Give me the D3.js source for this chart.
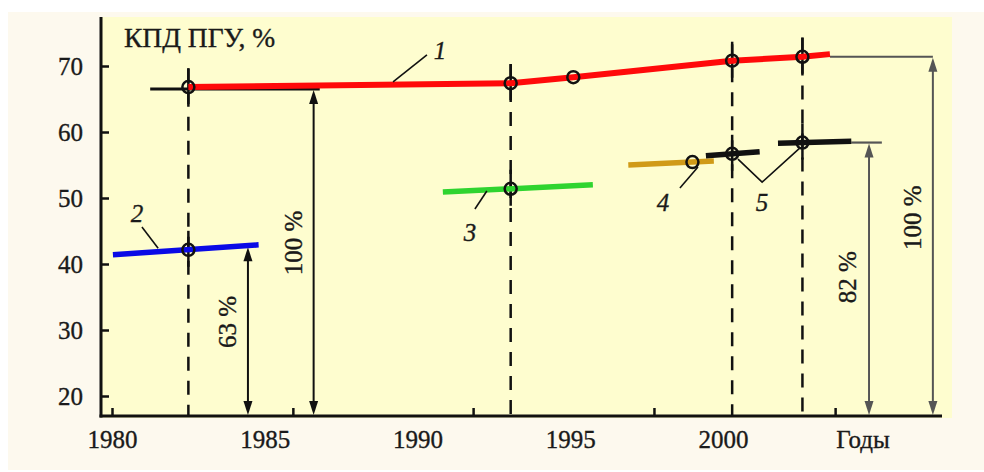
<!DOCTYPE html>
<html><head><meta charset="utf-8">
<script src="https://cdn.jsdelivr.net/npm/d3@7"></script>
<style>
html,body{margin:0;padding:0;background:#fff;}
text{font-family:"Liberation Serif","Times New Roman",serif;fill:#1a1a1a;stroke:#1a1a1a;stroke-width:0.35px;}
</style></head>
<body><svg id="chart" width="984" height="472"></svg>
<script>
// ---------- data ----------
const xLabelYears = [1980, 1985, 1990, 1995, 2000];
const xTickMarks = [1980, 1985.92, 1991.82, 1997.74, 2003.67];
const yTicks = [20, 30, 40, 50, 60, 70];
const titleText = "КПД ПГУ, %";
const xAxisTitle = "Годы";
const xAxisTitleYear = 2004.58;

// series 1 (red)
const line1 = [[1982.5, 66.8], [1993.05, 67.4], [1995.1, 68.3], [2000.3, 70.8], [2002.6, 71.4], [2003.5, 71.8]];
const marks1 = [[1982.5, 66.8], [1993.05, 67.4], [1995.1, 68.3], [2000.3, 70.8], [2002.6, 71.4]];
// series 2 (blue)
const line2 = [[1980.03, 41.4], [1984.8, 42.9]];
const marks2 = [[1982.5, 42.15]];
// series 3 (green)
const line3 = [[1990.83, 50.9], [1995.74, 52.0]];
const marks3 = [[1993.05, 51.4]];
// series 4 (gold)
const line4 = [[1996.9, 55.0], [1999.7, 55.6]];
const marks4 = [[1999.0, 55.45]];
// series 5 (black, two segments)
const line5a = [[1999.44, 56.4], [2001.2, 57.0]];
const line5b = [[2001.8, 58.3], [2004.2, 58.6]];
const marks5 = [[2000.3, 56.7], [2002.6, 58.4]];

// reference level 66.5 (black) at left
const refBlack = [[1981.25, 66.5], [1986.8, 66.5]];
// grey reference levels at right
const refGrey1 = [[2003.5, 71.4], [2006.87, 71.4]];
const refGrey2 = [[2004.2, 58.4], [2005.2, 58.4]];

// drop lines (year, top value)
const dropYears = [1982.5, 1993.05, 2000.3, 2002.6];
const dropTops = [69.6, 70.3, 73.3, 74.3];

// arrows
const arrowYears = [1984.45, 1986.6, 2004.78, 2006.87];
const arrowTops = [42.7, 66.5, 58.4, 71.4];
const arrowColors = ["#111", "#111", "#555", "#555"];
const arrowLabels = ["63 %", "100 %", "82 %", "100 %"];
const arrowLabelYears = [1983.76, 1985.92, 2004.06, 2006.19];
const arrowLabelValues = [31.2, 43.2, 38.0, 47.0];

// series number labels
const numLabels = ["1", "2", "3", "4", "5"];
const numLabelPos = [[1990.74, 72.4], [1980.82, 47.7], [1991.72, 44.85], [1998.04, 49.4], [2001.28, 49.4]];
const leaders = [
  [[1990.31, 71.67], [1989.2, 67.58]],
  [[1980.98, 45.6], [1981.51, 42.4]],
  [[1991.88, 48.33], [1992.27, 51.06]],
  [[1998.59, 51.5], [1999.18, 54.7]],
  [[2000.49, 55.9], [2001.28, 52.4], [2002.52, 57.6]]
];

// ---------- layout ----------
const svg = d3.select("#chart");
const axisX0 = 101, axisY0 = 416, plotTop = 17, plotRight = 952, axisRight = 942;
const x = d3.scaleLinear().domain([1980, 2000]).range([112, 723]);
const y = d3.scaleLinear().domain([20, 70]).range([396, 66]);

svg.append("rect").attr("x", 8).attr("y", 12).attr("width", 976).attr("height", 458).attr("fill", "#fdf9ee");
svg.append("rect").attr("x", axisX0).attr("y", plotTop).attr("width", plotRight - axisX0).attr("height", axisY0 + 2 - plotTop).attr("fill", "#fefdcf");

const line = d3.line().x(d => x(d[0])).y(d => y(d[1]));

// drop lines
dropYears.forEach((yr, i) => {
  svg.append("line").attr("x1", x(yr)).attr("x2", x(yr)).attr("y1", y(dropTops[i])).attr("y2", axisY0)
    .attr("stroke", "#111").attr("stroke-width", 2.5).attr("stroke-dasharray", "14,10");
});
const allMarks = [].concat(marks1, marks2, marks3, marks5).filter(d => dropYears.some(v => Math.abs(v - d[0]) < 0.01));
allMarks.forEach(d => {
  svg.append("line").attr("x1", x(d[0])).attr("x2", x(d[0])).attr("y1", y(d[1]) - 19).attr("y2", y(d[1]) + 17)
    .attr("stroke", "#111").attr("stroke-width", 2.5);
});

// reference lines
svg.append("path").attr("d", line(refBlack)).attr("stroke", "#111").attr("stroke-width", 3).attr("fill", "none");
svg.append("path").attr("d", line(refGrey1)).attr("stroke", "#555").attr("stroke-width", 2.2).attr("fill", "none");
svg.append("path").attr("d", line(refGrey2)).attr("stroke", "#555").attr("stroke-width", 2.2).attr("fill", "none");

// arrows
arrowYears.forEach((yr, i) => {
  const ax = x(yr), top = y(arrowTops[i]) + 1, bot = axisY0 - 1, c = arrowColors[i];
  svg.append("line").attr("x1", ax).attr("x2", ax).attr("y1", top + 10).attr("y2", bot - 10).attr("stroke", c).attr("stroke-width", 2);
  svg.append("path").attr("d", `M${ax},${top} L${ax - 4.5},${top + 14} L${ax + 4.5},${top + 14} Z`).attr("fill", c);
  svg.append("path").attr("d", `M${ax},${bot} L${ax - 4.5},${bot - 14} L${ax + 4.5},${bot - 14} Z`).attr("fill", c);
  svg.append("text").attr("transform", `translate(${x(arrowLabelYears[i])},${y(arrowLabelValues[i])}) rotate(-90)`)
    .attr("text-anchor", "middle").attr("dy", "0.35em").attr("font-size", 25).text(arrowLabels[i]);
});

// series lines
svg.append("path").attr("d", line(line2)).attr("stroke", "#0a0ae6").attr("stroke-width", 5.5).attr("fill", "none");
svg.append("path").attr("d", line(line3)).attr("stroke", "#2fd42f").attr("stroke-width", 5.5).attr("fill", "none");
svg.append("path").attr("d", line(line4)).attr("stroke", "#d09a18").attr("stroke-width", 5.5).attr("fill", "none");
svg.append("path").attr("d", line(line5a)).attr("stroke", "#111").attr("stroke-width", 5.5).attr("fill", "none");
svg.append("path").attr("d", line(line5b)).attr("stroke", "#111").attr("stroke-width", 5.5).attr("fill", "none");
svg.append("path").attr("d", line(line1)).attr("stroke", "#ff0a0a").attr("stroke-width", 6).attr("fill", "none").attr("stroke-linejoin", "round");

// markers
[].concat(marks1, marks2, marks3, marks4, marks5).forEach(d => {
  svg.append("circle").attr("cx", x(d[0])).attr("cy", y(d[1])).attr("r", 6)
    .attr("fill", "none").attr("stroke", "#111").attr("stroke-width", 2.5);
});

// leaders + number labels
leaders.forEach(pts => {
  svg.append("path").attr("d", line(pts)).attr("stroke", "#111").attr("stroke-width", 1.6).attr("fill", "none");
});
numLabels.forEach((t, i) => {
  svg.append("text").attr("x", x(numLabelPos[i][0])).attr("y", y(numLabelPos[i][1])).attr("dy", "0.35em")
    .attr("text-anchor", "middle").attr("font-size", 25).attr("font-style", "italic").text(t);
});

// axes
const yAxis = d3.axisLeft(y).tickValues(yTicks).tickSizeInner(-8).tickSizeOuter(0).tickPadding(18).tickFormat(d3.format("d"));
const gy = svg.append("g").attr("transform", `translate(${axisX0},0)`).call(yAxis);
gy.select(".domain").remove();
gy.selectAll(".tick line").attr("stroke", "#111").attr("stroke-width", 2.5);
gy.selectAll(".tick text").attr("font-size", 25).attr("font-family", "Liberation Serif").attr("fill", "#1a1a1a");

const xAxisLabels = d3.axisBottom(x).tickValues(xLabelYears).tickSize(0).tickPadding(14).tickFormat(d3.format("d"));
const gx = svg.append("g").attr("transform", `translate(0,${axisY0})`).call(xAxisLabels);
gx.select(".domain").remove();
gx.selectAll(".tick text").attr("font-size", 25).attr("font-family", "Liberation Serif").attr("fill", "#1a1a1a");

const xAxisMarks = d3.axisBottom(x).tickValues(xTickMarks).tickSizeInner(-8).tickSizeOuter(0).tickFormat("");
const gx2 = svg.append("g").attr("transform", `translate(0,${axisY0})`).call(xAxisMarks);
gx2.select(".domain").remove();
gx2.selectAll(".tick line").attr("stroke", "#111").attr("stroke-width", 2.5);

svg.append("line").attr("x1", axisX0).attr("x2", axisX0).attr("y1", plotTop).attr("y2", axisY0 + 1.5).attr("stroke", "#111").attr("stroke-width", 3);
svg.append("line").attr("x1", axisX0 - 1.5).attr("x2", axisRight).attr("y1", axisY0).attr("y2", axisY0).attr("stroke", "#111").attr("stroke-width", 3);

svg.append("text").attr("x", x(xAxisTitleYear)).attr("y", axisY0 + 32).attr("text-anchor", "middle").attr("font-size", 25).text(xAxisTitle);
svg.append("text").attr("x", 124).attr("y", 47).attr("font-size", 27.5).text(titleText);
</script></body></html>
